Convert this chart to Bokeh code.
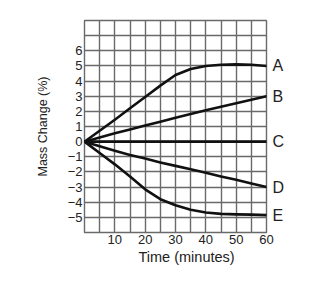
from bokeh.plotting import figure
from bokeh.models import FixedTicker, LinearAxis, Title
from bokeh.embed import file_html
from bokeh.resources import INLINE

# Data
time_min = [0, 5, 10, 15, 20, 25, 30, 35, 40, 45, 50, 55, 60]
series_A = [0, 0.72, 1.45, 2.2, 2.95, 3.7, 4.4, 4.8, 5.0, 5.08, 5.1, 5.08, 5.0]
series_B = [0, 0.28, 0.55, 0.8, 1.06, 1.32, 1.58, 1.83, 2.07, 2.3, 2.54, 2.77, 3.0]
series_C = [0, 0, 0, 0, 0, 0, 0, 0, 0, 0, 0, 0, 0]
series_D = [0, -0.3, -0.6, -0.88, -1.12, -1.37, -1.6, -1.83, -2.05, -2.3, -2.52, -2.76, -3.0]
series_E = [0, -0.75, -1.5, -2.3, -3.15, -3.8, -4.2, -4.5, -4.68, -4.77, -4.8, -4.82, -4.85]
series_names = ["A", "B", "C", "D", "E"]

x_ticks = list(range(0, 61, 5))
x_tick_labels = ["", "", "10", "", "20", "", "30", "", "40", "", "50", "", "60"]
y_ticks = list(range(-6, 9))
y_tick_labels = ["", "\u22125", "\u22124", "\u22123", "\u22122", "\u22121", "0",
                 "1", "2", "3", "4", "5", "6", "", ""]

FONT = "Liberation Sans"
GRID = "#6a6a6a"
TEXT = "#222222"

p = figure(width=336, height=288, x_range=(0, 60), y_range=(-6, 8),
           output_backend="svg", toolbar_location=None,
           min_border_left=84, min_border_right=70,
           min_border_top=20, min_border_bottom=56)
p.background_fill_color = "white"
p.border_fill_color = "white"
p.outline_line_color = GRID
p.outline_line_width = 1.4

all_series = (series_A, series_B, series_C, series_D, series_E)
ends = [s[-1] for s in all_series]

# right-hand axis carrying the series letters
right_axis = LinearAxis(ticker=FixedTicker(ticks=ends),
                        major_label_overrides=dict(zip(ends, series_names)))
p.add_layout(right_axis, "right")

p.xaxis.ticker = FixedTicker(ticks=x_ticks)
p.yaxis[0].ticker = FixedTicker(ticks=y_ticks)
p.xaxis.major_label_overrides = dict(zip(x_ticks, x_tick_labels))
p.yaxis[0].major_label_overrides = dict(zip(y_ticks, y_tick_labels))

for ax in (p.xaxis[0], p.yaxis[0], right_axis):
    ax.axis_line_color = None
    ax.major_tick_line_color = None
    ax.minor_tick_line_color = None
    ax.major_tick_out = 0
    ax.major_tick_in = 0
    ax.minor_tick_out = 0
    ax.major_label_text_font = FONT
    ax.major_label_text_font_size = "13px"
    ax.major_label_text_color = TEXT
    ax.major_label_standoff = 2
    ax.axis_label_text_font = FONT
    ax.axis_label_text_font_style = "normal"
    ax.axis_label_text_color = TEXT

right_axis.major_label_text_font_size = "16px"
right_axis.major_label_standoff = 6

p.yaxis[0].axis_label = "Mass Change (%)"
p.yaxis[0].axis_label_text_font_size = "12.5px"
p.yaxis[0].axis_label_standoff = 15

p.grid.grid_line_color = GRID
p.grid.grid_line_width = 1.4
p.grid.grid_line_alpha = 1.0

for ys in all_series:
    p.line(time_min, ys, line_color="#111111", line_width=2.6,
           line_join="round", line_cap="round")

# x-axis title, placed under the labelled ticks
p.add_layout(Title(text="Time (minutes)", align="left", offset=54,
                   text_font=FONT, text_font_size="14.5px",
                   text_font_style="normal", text_color=TEXT,
                   standoff=0), "below")

open("out.html", "w").write(file_html(p, INLINE))
